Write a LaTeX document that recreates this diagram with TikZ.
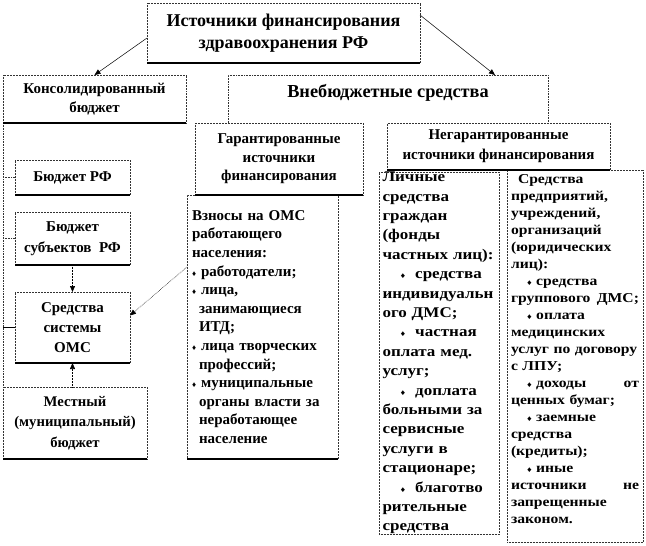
\documentclass[tikz,border=0pt]{standalone}
\usepackage{fontspec}
\setmainfont{Liberation Serif}
\newfontfamily\fatA[FakeStretch=1.15]{Liberation Serif}
\usetikzlibrary{arrows.meta}

\newcommand{\dmd}{{\fontsize{8}{8}\selectfont ♦}}

\begin{document}
\begin{tikzpicture}[x=1pt,y=-1pt,
  box/.style={draw=black!80, densely dotted, line width=0.5pt, fill=white,
    anchor=north west, inner sep=0pt, outer sep=0pt, align=center},
  botline/.style={draw=black, solid, line width=1.1pt},
  link/.style={draw=black!80, densely dotted, line width=0.6pt},
  arr/.style={-{Triangle[length=6pt,width=5pt]}, line width=0.5pt},
  darr/.style={arr, densely dotted, line width=0.6pt}]
  \useasboundingbox (0,0) rectangle (646,546);

  % upper level
  \node[box, minimum width=273, minimum height=60,
    font=\bfseries\fontsize{18}{22}\selectfont] (top) at (147,3)
    {Источники финансирования\\здравоохранения РФ};
  \node[box, minimum width=183, minimum height=48,
    font=\bfseries\fontsize{15}{18.5}\selectfont] (kons) at (3,75)
    {Консолидированный\\бюджет};
  \node[box, draw=none, minimum width=320, minimum height=48] (vneb) at (228,75) {};
  \draw[link] (vneb.south west) -- (vneb.north west) -- (vneb.north east) -- (vneb.south east);
  \node[font=\bfseries\fontsize{18.3}{22}\selectfont] (vnebt) at (388,93) {Внебюджетные средства};

  % extra-budget sources
  \node[box, minimum width=168, minimum height=72,
    font=\bfseries\fontsize{15}{18.5}\selectfont] (gar) at (195,123)
    {Гарантированные\\источники\\финансирования};
  \node[box, minimum width=223, minimum height=47,
    font=\bfseries\fontsize{15}{20}\selectfont] (negar) at (387,123)
    {Негарантированные\\источники финансирования};

  % consolidated budget
  \coordinate (frm) at (3,123);
  \draw[link] (kons.south west) -- (3,387);
  \node[box, minimum width=115, minimum height=35,
    font=\bfseries\fontsize{15}{18}\selectfont] (bud) at (15,160) {Бюджет РФ};
  \node[box, minimum width=115, minimum height=53,
    font=\bfseries\fontsize{15}{21}\selectfont] (subj) at (15,212)
    {Бюджет\\субъектов\ \ РФ};
  \node[box, minimum width=115, minimum height=71,
    font=\bfseries\fontsize{15}{20}\selectfont] (oms) at (15,292)
    {Средства\\системы\\ОМС};
  \node[box, minimum width=144, minimum height=72,
    font=\bfseries\fontsize{14.7}{20.5}\selectfont] (mest) at (3,387)
    {Местный\\(муниципальный)\\бюджет};

  % lists
  \node[box, minimum width=151, minimum height=264, text width=141, inner xsep=5,
    align=left, font=\bfseries\fontsize{15}{18.6}\selectfont] (vzn) at (187,195)
    {Взносы~на~ОМС\\
     работающего\\
     населения:\\
     \dmd\ работодатели;\\
     \dmd\ лица,\\
     \hspace*{7pt}занимающиеся\\
     \hspace*{7pt}ИТД;\\
     \dmd\ лица~творческих\\
     \hspace*{7pt}профессий;\\
     \dmd\ муниципальные\\
     \hspace*{7pt}органы~власти~за\\
     \hspace*{7pt}неработающее\\
     \hspace*{7pt}население};
  \node[box, minimum width=120, minimum height=360, text width=113, inner xsep=3.5,
    align=left, font=\fatA\bfseries\fontsize{14.8}{19.4}\selectfont] (lich) at (379,172)
    {Личные\\
     средства\\
     граждан\\
     (фонды\\
     частных~лиц):\\
     \hspace*{18pt}\dmd\hspace{10pt}средства\\
     индивидуальн\\
     ого~ДМС;\\
     \hspace*{18pt}\dmd\hspace{10pt}частная\\
     оплата~мед.\\
     услуг;\\
     \hspace*{18pt}\dmd\hspace{10pt}доплата\\
     больными~за\\
     сервисные\\
     услуги~в\\
     стационаре;\\
     \hspace*{18pt}\dmd\hspace{10pt}благотво\\
     рительные\\
     средства};
  \node[box, minimum width=136, minimum height=372, text width=128, inner xsep=4,
    align=left, font=\fatA\bfseries\fontsize{13.6}{17}\selectfont] (pred) at (507,170)
    {\hspace*{7pt}Средства\\
     предприятий,\\
     учреждений,\\
     организаций\\
     (юридических\\
     лиц):\\
     \hspace*{16pt}\dmd\ средства\\
     группового\nobreak\hfill\ ДМС;\\
     \hspace*{16pt}\dmd\ оплата\\
     медицинских\\
     услуг~по~договору\\
     с~ЛПУ;\\
     \hspace*{16pt}\dmd\ доходы\nobreak\hfill\ от\\
     ценных~бумаг;\\
     \hspace*{16pt}\dmd\ заемные\\
     средства\\
     (кредиты);\\
     \hspace*{16pt}\dmd\ иные\\
     источники\nobreak\hfill\ не\\
     запрещенные\\
     законом.\rule[-14pt]{0pt}{14pt}};

  % solid lower edges
  \foreach \n in {top,kons,gar,negar,bud,subj,oms,mest,vzn}
    \draw[botline] (\n.south west) -- (\n.south east);

  % connectors
  \draw[arr] ([yshift=-5]top.west) -- (kons.north);
  \draw[arr] ([yshift=-12]top.north east) -- ([xshift=-53]vneb.north east);
  \draw[link] (bud.west -| frm) -- (bud.west);
  \draw[link] (subj.west -| frm) -- (subj.west);
  \draw[line width=0.6pt] (oms.west -| frm) -- (oms.west);
  \draw[darr] (subj.south) -- (oms.north);
  \draw[darr] (oms.south |- mest.north) -- (oms.south);
  \draw[darr] ([yshift=60]vzn.west) -- ([yshift=12]oms.east);
\end{tikzpicture}
\end{document}
